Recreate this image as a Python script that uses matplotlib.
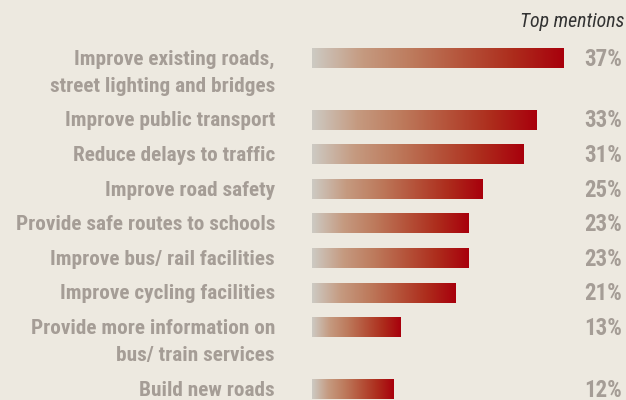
import numpy as np
import matplotlib
matplotlib.use("Agg")
import matplotlib.pyplot as plt
from matplotlib.colors import LinearSegmentedColormap

categories = [
    "Improve existing roads,\nstreet lighting and bridges",
    "Improve public transport",
    "Reduce delays to traffic",
    "Improve road safety",
    "Provide safe routes to schools",
    "Improve bus/ rail facilities",
    "Improve cycling facilities",
    "Provide more information on\nbus/ train services",
    "Build new roads",
]
values = [37, 33, 31, 25, 23, 23, 21, 13, 12]
value_labels = ["37%", "33%", "31%", "25%", "23%", "23%", "21%", "13%", "12%"]
header = "Top mentions"

BG = "#ede9e0"
TXT = "#a59d96"
cmap = LinearSegmentedColormap.from_list(
    "grad", ["#cdcac3", "#c59a80", "#bd7a5c", "#b5533a", "#ad2c1c", "#a8000c"])

W, H = 626, 400
fig = plt.figure(figsize=(W / 100, H / 100), dpi=100, facecolor=BG)

# row positions: extra space for two-line labels
LINE_EXTRA = 0.78
pos = []
y = 0.0
for i, c in enumerate(categories):
    if i > 0:
        prev_lines = categories[i - 1].count("\n") + 1
        y += 1 + LINE_EXTRA * (prev_lines - 1)
    pos.append(y)

row_px = 34.6
top_px = 58
ylim_top = -top_px / row_px
ylim_bot = (H - top_px) / row_px

# bar axes
bar_left = 312
px_per_pct = 252 / 37
xmax = 46
ax = fig.add_axes([bar_left / W, 0, xmax * px_per_pct / W, 1])
ax.set_facecolor("none")
bh = 20 / row_px
grad = np.linspace(0, 1, 256).reshape(1, -1)
for p, v in zip(pos, values):
    ax.imshow(grad, cmap=cmap, aspect="auto",
              extent=(0, v, p + bh / 2, p - bh / 2), interpolation="bilinear")
ax.set_xlim(0, xmax)
ax.set_ylim(ylim_bot, ylim_top)
ax.axis("off")

# text overlay axes in pixel coords
tx = fig.add_axes([0, 0, 1, 1])
tx.set_facecolor("none")
tx.set_xlim(0, W)
tx.set_ylim(ylim_bot, ylim_top)
tx.axis("off")

font = ["Roboto Condensed", "DejaVu Sans"]
FS = 15.3
FS_PCT = 16.5
for p, c, lab in zip(pos, categories, value_labels):
    for k, line in enumerate(c.split("\n")):
        tx.text(275, p + k * LINE_EXTRA + 0.04, line, ha="right", va="center",
                fontsize=FS, fontweight="bold", color=TXT, family=font)
    tx.text(622, p + 0.04, lab, ha="right", va="center", fontsize=FS_PCT,
            fontweight="bold", color=TXT, family=font)

tx.text(624, (21 - top_px) / row_px, header, ha="right", va="center",
        fontsize=14.3, style="italic", color="#333333", family=font)

fig.savefig("out.png", dpi=100, facecolor=BG)
